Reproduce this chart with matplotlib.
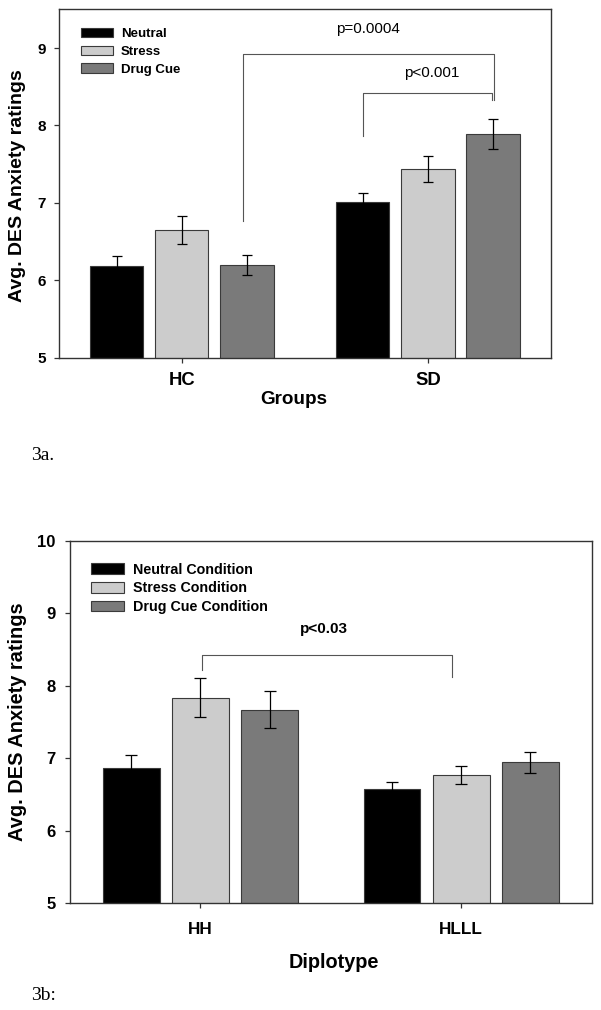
import numpy as np
import matplotlib
matplotlib.use("Agg")
import matplotlib.pyplot as plt

plt.rcParams['font.family'] = ['Liberation Sans', 'DejaVu Sans']

# panel 3a
groups_a = ["HC", "SD"]
labels_a = ["Neutral", "Stress", "Drug Cue"]
means_a = [[6.19, 7.01], [6.65, 7.44], [6.20, 7.89]]
errs_a = [[0.12, 0.12], [0.175, 0.17], [0.13, 0.19]]

# panel 3b
groups_b = ["HH", "HLLL"]
labels_b = ["Neutral Condition", "Stress Condition", "Drug Cue Condition"]
means_b = [[6.86, 6.57], [7.83, 6.77], [7.67, 6.94]]
errs_b = [[0.18, 0.10], [0.27, 0.125], [0.26, 0.145]]

colors = ["#000000", "#cccccc", "#7a7a7a"]
offsets = [-0.265, 0.0, 0.265]
width = 0.217

fig = plt.figure(figsize=(6.01, 10.10), dpi=100)


def draw(ax, groups, labels, means, errs, cap):
    x = np.arange(len(groups))
    for i in range(3):
        ax.bar(x + offsets[i], means[i], width, color=colors[i],
               edgecolor="#3a3a3a", linewidth=0.8, label=labels[i], zorder=2)
        ax.errorbar(x + offsets[i], means[i], yerr=errs[i], fmt="none",
                    ecolor="black", elinewidth=0.9, capsize=cap,
                    capthick=0.9, zorder=3)
    ax.set_xticks(x)
    ax.set_xticklabels(groups, fontweight="bold")
    ax.set_xlim(-0.5, 1.5)
    for s in ax.spines.values():
        s.set_color("#333333")
        s.set_linewidth(1.0)
    ax.tick_params(axis="both", direction="out", length=3.8, width=0.9,
                   color="#333333")
    for t in ax.get_yticklabels():
        t.set_fontweight("bold")


# ---- top chart ----
ax1 = fig.add_axes([0.0977, 0.6458, 0.8191, 0.3450])
draw(ax1, groups_a, labels_a, means_a, errs_a, 3.8)
ax1.set_ylim(5, 9.5)
ax1.set_yticks([5, 6, 7, 8, 9])
ax1.tick_params(axis="y", labelsize=11, pad=5.5)
ax1.tick_params(axis="x", labelsize=13.3, pad=6.5)
ax1.set_xlabel("Groups", fontsize=13.6, fontweight="bold")
ax1.xaxis.set_label_coords(0.478, -0.1185)
ax1.xaxis.label.set_va("center")
ax1.set_ylabel("Avg. DES Anxiety ratings", fontsize=14, fontweight="bold")
ax1.yaxis.set_label_coords(-0.084, 0.493)
ax1.yaxis.label.set_va("center")

bk = "#555555"
ax1.plot([0.25, 0.25, 1.27, 1.27], [6.77, 8.92, 8.92, 8.33], color=bk, lw=0.8)
ax1.plot([0.737, 0.737, 1.26, 1.26], [7.87, 8.42, 8.42, 8.33], color=bk, lw=0.8)
ax1.text(0.757, 9.24, "p=0.0004", fontsize=11, ha="center", va="center")
ax1.text(1.017, 8.68, "p<0.001", fontsize=11, ha="center", va="center")

ax1.legend(loc="upper left", bbox_to_anchor=(0.035, 0.962), frameon=False,
           prop={"weight": "bold", "size": 9.5}, handlelength=2.4,
           handleheight=0.75, labelspacing=0.4, handletextpad=0.6,
           borderaxespad=0)

# ---- bottom chart ----
ax2 = fig.add_axes([0.1165, 0.1059, 0.8680, 0.3588])
draw(ax2, groups_b, labels_b, means_b, errs_b, 4.2)
ax2.set_ylim(5, 10)
ax2.set_yticks([5, 6, 7, 8, 9, 10])
ax2.tick_params(axis="y", labelsize=12, pad=6.5)
ax2.tick_params(axis="x", labelsize=12.3, pad=10)
ax2.set_xlabel("Diplotype", fontsize=14.3, fontweight="bold")
ax2.xaxis.set_label_coords(0.506, -0.165)
ax2.xaxis.label.set_va("center")
ax2.set_ylabel("Avg. DES Anxiety ratings", fontsize=14.4, fontweight="bold")
ax2.yaxis.set_label_coords(-0.101, 0.5)
ax2.yaxis.label.set_va("center")

ax2.plot([0.005, 0.005, 0.964, 0.964], [8.21, 8.42, 8.42, 8.12], color=bk, lw=0.8)
ax2.text(0.473, 8.78, "p<0.03", fontsize=11, fontweight="bold",
         ha="center", va="center")

ax2.legend(loc="upper left", bbox_to_anchor=(0.03, 0.955), frameon=False,
           prop={"weight": "bold", "size": 10.3}, handlelength=2.3,
           handleheight=0.75, labelspacing=0.32, handletextpad=0.6,
           borderaxespad=0)

fig.text(31 / 601, 1 - 455 / 1010, "3a.", family="Liberation Serif",
         fontsize=14, va="center", ha="left")
fig.text(31 / 601, 1 - 995 / 1010, "3b:", family="Liberation Serif",
         fontsize=14, va="center", ha="left")

fig.savefig("out.png", dpi=100)
